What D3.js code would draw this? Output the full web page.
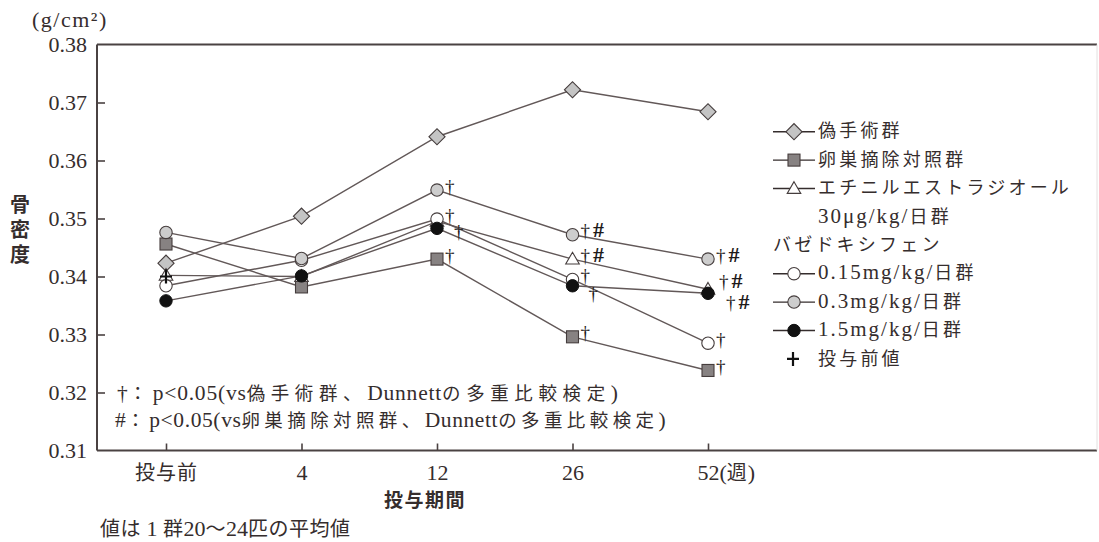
<!DOCTYPE html>
<html>
<head>
<meta charset="utf-8">
<script src="https://cdn.jsdelivr.net/npm/d3@7"></script>
<style>
  html, body { margin: 0; padding: 0; background: #fff; }
  svg { display: block; }
  text { fill: #352d2d; }
</style>
</head>
<body>
<svg id="chart" width="1099" height="542"></svg>
<script>
// Bone mineral density (g/cm²) by treatment period
const periods = ["投与前", "4", "12", "26", "52"];
const periodLabels = ["投与前", "4", "12", "26", "52(週)"];
const yTicks = [0.31, 0.32, 0.33, 0.34, 0.35, 0.36, 0.37, 0.38];

const sham    = [0.3423, 0.3504, 0.3641, 0.3722, 0.3684];
const ovx     = [0.3456, 0.3382, 0.3430, 0.3296, 0.3238];
const ee      = [0.3402, 0.3400, 0.3495, 0.3430, 0.3378];
const bza015  = [0.3384, 0.3428, 0.3499, 0.3395, 0.3285];
const bza03   = [0.3476, 0.3431, 0.3549, 0.3472, 0.3430];
const bza15   = [0.3358, 0.3401, 0.3483, 0.3384, 0.3371];
const preValue = 0.3400;

// significance marks per period
const shamSig   = ["", "", "", "", ""];
const ovxSig    = ["", "", "†", "†", "†"];
const eeSig     = ["", "", "", "†#", "†#"];
const bza015Sig = ["", "", "†", "†", "†"];
const bza03Sig  = ["", "", "†", "†#", "†#"];
const bza15Sig  = ["", "", "†", "†", "†#"];

const legendNames = ["偽手術群", "卵巣摘除対照群", "エチニルエストラジオール", "0.15mg/kg/日群", "0.3mg/kg/日群", "1.5mg/kg/日群"];
const footnotes = ["†：p<0.05(vs偽手術群、Dunnettの多重比較検定)", "#：p<0.05(vs卵巣摘除対照群、Dunnettの多重比較検定)"];

const LATIN = "'Liberation Serif', 'Times New Roman', serif";
const CJK = "'Noto Sans CJK JP', sans-serif";

const svg = d3.select("#chart");
const plotLeft = 97, plotRight = 1097, plotTop = 44.5, plotBottom = 450.5;

const x = d3.scalePoint().domain(periods).range([166, 708]);
const y = d3.scaleLinear().domain([0.31, 0.38]).range([plotBottom, plotTop]);

const lineColor = "#625858";
const frameColor = "#4a4242";

// mixed Japanese / Latin text: each script in its own run
const cjkRe = /[\u3000-\u30ff\u4e00-\u9fff\uff01-\uff60]/;
function rich(sel, str, o) {
  const parts = str.match(/[\u3000-\u30ff\u4e00-\u9fff\uff01-\uff60]+|[^\u3000-\u30ff\u4e00-\u9fff\uff01-\uff60]+/g);
  parts.forEach(p => {
    const isCjk = cjkRe.test(p);
    sel.append("tspan")
      .attr("font-family", isCjk ? CJK : LATIN)
      .attr("font-size", isCjk ? o.cjk : o.latin)
      .attr("letter-spacing", isCjk ? (o.cjkLs || 0) : (o.latinLs || 0))
      .text(p);
  });
  return sel;
}

// frame
svg.append("line").attr("x1", plotLeft).attr("x2", plotRight).attr("y1", plotTop).attr("y2", plotTop)
  .attr("stroke", frameColor).attr("stroke-width", 2);
svg.append("line").attr("x1", plotLeft).attr("x2", plotRight).attr("y1", plotBottom).attr("y2", plotBottom)
  .attr("stroke", frameColor).attr("stroke-width", 2);
svg.append("line").attr("x1", plotLeft).attr("x2", plotLeft).attr("y1", plotTop).attr("y2", plotBottom)
  .attr("stroke", frameColor).attr("stroke-width", 2);
svg.append("line").attr("x1", plotRight).attr("x2", plotRight).attr("y1", plotTop).attr("y2", plotBottom)
  .attr("stroke", "#e4e0e0").attr("stroke-width", 1);

// y axis (inward ticks)
const yAxis = d3.axisLeft(y).tickValues(yTicks).tickSize(-8).tickPadding(10)
  .tickFormat(d3.format(".2f"));
const gy = svg.append("g").attr("transform", `translate(${plotLeft},0)`).call(yAxis);
gy.attr("font-family", LATIN).attr("font-size", 22);
gy.select(".domain").remove();
gy.selectAll(".tick line").attr("stroke", frameColor).attr("stroke-width", 1.6)
  .attr("display", d => (d === 0.31 || d === 0.38) ? "none" : null);
gy.selectAll(".tick text").attr("fill", null).attr("dy", "0.33em");

// x axis (upward ticks)
const xAxis = d3.axisBottom(x).tickSize(-7).tickPadding(14).tickFormat("");
const gx = svg.append("g").attr("transform", `translate(0,${plotBottom})`).call(xAxis);
gx.select(".domain").remove();
gx.selectAll(".tick line").attr("stroke", frameColor).attr("stroke-width", 1.6);
gx.selectAll(".tick text").each(function (d, i) {
  const t = d3.select(this).attr("fill", null).attr("dy", null).attr("y", 29.5)
    .attr("text-anchor", i === 4 ? "start" : "middle")
    .attr("dx", i === 4 ? -11 : 0);
  rich(t, periodLabels[i], { cjk: 20, latin: 22, cjkLs: 1 });
});

// axis titles
rich(svg.append("text").attr("x", 32).attr("y", 27), "(g/cm²)", { cjk: 20, latin: 22, latinLs: 1.5 });
svg.append("text").attr("x", 20).attr("y", 194)
  .style("writing-mode", "vertical-rl")
  .attr("font-family", CJK).attr("font-weight", 700).attr("font-size", 20)
  .attr("letter-spacing", 5).text("骨密度");
svg.append("text").attr("x", 425).attr("y", 507)
  .attr("text-anchor", "middle").attr("font-family", CJK).attr("font-weight", 700)
  .attr("font-size", 19).attr("letter-spacing", 1.5).text("投与期間");
rich(svg.append("text").attr("x", 100).attr("y", 536), "値は 1 群20～24匹の平均値",
  { cjk: 20, latin: 22, cjkLs: 0.5 });

// marker drawing
function marker(g, type, cx, cy) {
  const s = "#453d3d";
  if (type === "diamond") {
    g.append("path").attr("d", d3.symbol(d3.symbolSquare, 130)())
      .attr("transform", `translate(${cx},${cy}) rotate(45)`)
      .attr("fill", "#c4c4c4").attr("stroke", s).attr("stroke-width", 1.1);
  } else if (type === "square") {
    g.append("rect").attr("x", cx - 6).attr("y", cy - 6).attr("width", 12).attr("height", 12)
      .attr("fill", "#878282").attr("stroke", s).attr("stroke-width", 1.1);
  } else if (type === "triangle") {
    g.append("path").attr("d", d3.symbol(d3.symbolTriangle, 80)())
      .attr("transform", `translate(${cx},${cy + 1})`)
      .attr("fill", "#fff").attr("stroke", s).attr("stroke-width", 1.1);
  } else if (type === "white") {
    g.append("circle").attr("cx", cx).attr("cy", cy).attr("r", 6.2)
      .attr("fill", "#fff").attr("stroke", s).attr("stroke-width", 1.1);
  } else if (type === "gray") {
    g.append("circle").attr("cx", cx).attr("cy", cy).attr("r", 6.2)
      .attr("fill", "#cdcdcd").attr("stroke", s).attr("stroke-width", 1.1);
  } else if (type === "black") {
    g.append("circle").attr("cx", cx).attr("cy", cy).attr("r", 6.2)
      .attr("fill", "#111").attr("stroke", "#111").attr("stroke-width", 1);
  } else if (type === "plus") {
    g.append("path").attr("d", `M${cx - 6},${cy}H${cx + 6}M${cx},${cy - 7}V${cy + 7}`)
      .attr("stroke", "#111").attr("stroke-width", 2.2).attr("fill", "none");
  }
}

const series = [
  { values: sham,   type: "diamond",  sig: shamSig },
  { values: ovx,    type: "square",   sig: ovxSig },
  { values: ee,     type: "triangle", sig: eeSig },
  { values: bza015, type: "white",    sig: bza015Sig },
  { values: bza03,  type: "gray",     sig: bza03Sig },
  { values: bza15,  type: "black",    sig: bza15Sig }
];

const line = d3.line().x((d, i) => x(periods[i])).y(d => y(d));
const gLines = svg.append("g");
series.forEach(s => {
  gLines.append("path").attr("d", line(s.values)).attr("fill", "none")
    .attr("stroke", lineColor).attr("stroke-width", 1.4);
});

const gMarks = svg.append("g");
series.forEach(s => {
  s.values.forEach((v, i) => marker(gMarks, s.type, x(periods[i]), y(v)));
});
marker(gMarks, "plus", x(periods[0]), y(preValue));

// placement of significance marks (offset from marker centre)
const sigOffset = {
  default: [8, -3],
  "5-2": [17, 4],   // 1.5mg at week 12
  "5-3": [16, 9],   // 1.5mg at week 26
  "2-4": [11, -7],  // EE at week 52
  "5-4": [18, 10]   // 1.5mg at week 52
};
const gSig = svg.append("g");
series.forEach((s, k) => {
  s.sig.forEach((m, i) => {
    if (!m) return;
    const off = sigOffset[`${k}-${i}`] || sigOffset.default;
    const t = gSig.append("text").attr("font-family", LATIN).style("fill", "#1e1a1a")
      .attr("x", x(periods[i]) + off[0]).attr("y", y(s.values[i]) + off[1])
      .attr("dy", "0.35em");
    [...m].forEach(ch => {
      t.append("tspan").attr("dx", ch === "#" ? 3 : 0)
        .attr("font-size", ch === "#" ? 22 : 19).attr("font-weight", ch === "#" ? 700 : 400).text(ch);
    });
  });
});

// legend
const lgX = 773, lgY = 131.7, lgStep = 28.4;
const legFont = { cjk: 18, latin: 21, cjkLs: 3.2, latinLs: 2 };
const legendRows = [
  { type: "diamond", text: legendNames[0], row: 0 },
  { type: "square", text: legendNames[1], row: 1 },
  { type: "triangle", text: legendNames[2], row: 2 },
  { type: "white", text: legendNames[3], row: 5 },
  { type: "gray", text: legendNames[4], row: 6 },
  { type: "black", text: legendNames[5], row: 7 }
];
const gLeg = svg.append("g");
function legText(tx, row, str) {
  return rich(gLeg.append("text").attr("x", tx).attr("y", lgY + row * lgStep).attr("dy", "0.36em"), str, legFont);
}
legendRows.forEach(r => {
  const cy = lgY + r.row * lgStep;
  gLeg.append("line").attr("x1", lgX).attr("x2", lgX + 42).attr("y1", cy).attr("y2", cy)
    .attr("stroke", "#352d2d").attr("stroke-width", 1.4);
  marker(gLeg, r.type, lgX + 21, cy);
  legText(lgX + 45, r.row, r.text);
});
legText(lgX + 45, 3, "30μg/kg/日群");
legText(lgX, 4, "バゼドキシフェン");
marker(gLeg, "plus", lgX + 20, lgY + 8 * lgStep);
legText(lgX + 45, 8, "投与前値");

// footnotes for significance marks
const fnLines = [
  { x: 117, y: 394, font: { cjk: 18.5, latin: 21.5, cjkLs: 5.6, latinLs: 0.8 } },
  { x: 115, y: 421, font: { cjk: 18.5, latin: 21.5, cjkLs: 4.4, latinLs: 0.6 } }
];
footnotes.forEach((str, i) => {
  rich(svg.append("text").attr("x", fnLines[i].x).attr("y", fnLines[i].y).attr("dy", "0.36em"),
    str, fnLines[i].font);
});
</script>
</body>
</html>
